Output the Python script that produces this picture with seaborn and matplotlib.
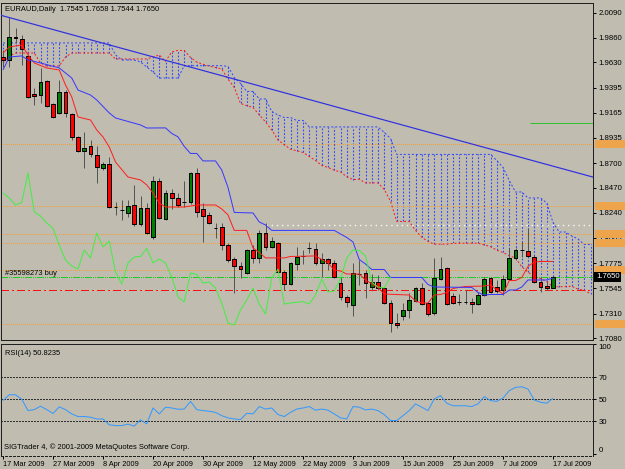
import numpy as np
import pandas as pd
import seaborn as sns
import matplotlib.pyplot as plt
from matplotlib.patches import Rectangle
from matplotlib.transforms import blended_transform_factory

# ---- EURAUD daily candles, 17 Mar - 17 Jul 2009 ----
opens = [
    1.9680, 1.9653, 1.9865, 1.9847, 1.9690, 1.9338, 1.9329, 1.9459, 1.9246, 1.9163,
    1.9357, 1.9154, 1.8941, 1.8812, 1.8858, 1.8775, 1.8655, 1.8692, 1.8294, 1.8267,
    1.8239, 1.8313, 1.8137, 1.8285, 1.8017, 1.8535, 1.8183, 1.8424, 1.8377, 1.8341,
    1.8341, 1.8609, 1.8276, 1.8220, 1.8100, 1.8110, 1.7943, 1.7814, 1.7749, 1.7685,
    1.7897, 1.7823, 1.8054, 1.7925, 1.7962, 1.7694, 1.7583, 1.7768, 1.7841, 1.7915,
    1.7906, 1.7777, 1.7814, 1.7777, 1.7592, 1.7463, 1.7389, 1.7675, 1.7685, 1.7555,
    1.7601, 1.7546, 1.7407, 1.7222, 1.7287, 1.7343, 1.7426, 1.7546, 1.7407, 1.7315,
    1.7629, 1.7731, 1.7472, 1.7417, 1.7417, 1.7417, 1.7398, 1.7481, 1.7638, 1.7555,
    1.7527, 1.7629, 1.7823, 1.7897, 1.7888, 1.7832, 1.7601, 1.7564, 1.7545]
highs = [
    1.9745, 2.0050, 1.9948, 1.9884, 1.9708, 1.9394, 1.9579, 1.9468, 1.9255, 1.9468,
    1.9375, 1.9163, 1.8950, 1.8987, 1.8913, 1.8858, 1.8710, 1.8756, 1.8341, 1.8359,
    1.8359, 1.8498, 1.8396, 1.8331, 1.8581, 1.8562, 1.8451, 1.8461, 1.8424, 1.8535,
    1.8618, 1.8655, 1.8331, 1.8248, 1.8147, 1.8147, 1.7962, 1.7832, 1.7786, 1.7906,
    1.7943, 1.8082, 1.8147, 1.8017, 1.7971, 1.7712, 1.7786, 1.7925, 1.7897, 1.7971,
    1.7962, 1.7869, 1.7823, 1.7805, 1.7648, 1.7481, 1.7777, 1.7805, 1.7712, 1.7675,
    1.7666, 1.7555, 1.7435, 1.7315, 1.7407, 1.7500, 1.7555, 1.7592, 1.7417, 1.7823,
    1.7832, 1.7740, 1.7500, 1.7490, 1.7527, 1.7453, 1.7509, 1.7648, 1.7648, 1.7620,
    1.7666, 1.7915, 1.7915, 1.7971, 1.8100, 1.7851, 1.7648, 1.7601, 1.7658]
lows = [
    1.9588, 1.9588, 1.9810, 1.9606, 1.9302, 1.9237, 1.9255, 1.9218, 1.9117, 1.9154,
    1.9126, 1.8913, 1.8803, 1.8655, 1.8756, 1.8516, 1.8636, 1.8285, 1.8220, 1.8174,
    1.8202, 1.8119, 1.8119, 1.8045, 1.7999, 1.8183, 1.8174, 1.8276, 1.8294, 1.8294,
    1.8322, 1.8202, 1.7971, 1.8137, 1.8008, 1.7897, 1.7786, 1.7500, 1.7638, 1.7675,
    1.7777, 1.7777, 1.7897, 1.7915, 1.7685, 1.7527, 1.7574, 1.7712, 1.7768, 1.7869,
    1.7758, 1.7648, 1.7712, 1.7638, 1.7435, 1.7370, 1.7287, 1.7574, 1.7453, 1.7527,
    1.7527, 1.7398, 1.7139, 1.7176, 1.7250, 1.7269, 1.7417, 1.7389, 1.7287, 1.7296,
    1.7620, 1.7389, 1.7398, 1.7389, 1.7398, 1.7315, 1.7389, 1.7472, 1.7500, 1.7500,
    1.7481, 1.7620, 1.7805, 1.7832, 1.7832, 1.7592, 1.7509, 1.7527, 1.7544]
closes = [
    1.9653, 1.9865, 1.9856, 1.9754, 1.9311, 1.9320, 1.9449, 1.9228, 1.9126, 1.9357,
    1.9163, 1.8941, 1.8812, 1.8839, 1.8784, 1.8664, 1.8692, 1.8294, 1.8298, 1.8263,
    1.8304, 1.8137, 1.8285, 1.8054, 1.8535, 1.8193, 1.8424, 1.8377, 1.8313, 1.8337,
    1.8609, 1.8248, 1.8211, 1.8147, 1.8097, 1.7943, 1.7805, 1.7749, 1.7721, 1.7897,
    1.7823, 1.8054, 1.7925, 1.7980, 1.7694, 1.7583, 1.7777, 1.7832, 1.7838, 1.7912,
    1.7777, 1.7814, 1.7777, 1.7648, 1.7463, 1.7417, 1.7685, 1.7672, 1.7592, 1.7601,
    1.7546, 1.7407, 1.7222, 1.7204, 1.7343, 1.7435, 1.7546, 1.7398, 1.7306, 1.7638,
    1.7721, 1.7398, 1.7407, 1.7414, 1.7420, 1.7398, 1.7481, 1.7629, 1.7509, 1.7518,
    1.7629, 1.7823, 1.7897, 1.7893, 1.7842, 1.7601, 1.7555, 1.7546, 1.7650]

# Ichimoku lines, vertices (bar index, price)
tenkan_bars = [0, 1, 3, 4, 5, 7, 9, 10, 11, 12, 14, 15, 16, 17, 18, 20, 22, 23, 24, 25,
               26, 29, 31, 34, 35, 36, 37, 39, 40, 41, 42, 45, 46, 50, 52, 53, 54, 55, 57, 58,
               60, 61, 65, 66, 67, 68, 69, 70, 71, 72, 73, 74, 77, 78, 79, 80, 81, 82, 83, 84,
               85, 86, 88]
tenkan_vals = [1.9717, 1.9773, 1.9791, 1.9699, 1.9625, 1.9579, 1.9560, 1.9422, 1.9311, 1.9126,
               1.9098, 1.9006, 1.8941, 1.8849, 1.8710, 1.8571, 1.8544, 1.8498, 1.8424, 1.8331,
               1.8294, 1.8294, 1.8313, 1.8313, 1.8276, 1.8221, 1.8078, 1.8078, 1.7916, 1.7874,
               1.7824, 1.7824, 1.7837, 1.7842, 1.7777, 1.7712, 1.7703, 1.7675, 1.7675, 1.7620,
               1.7550, 1.7490, 1.7481, 1.7426, 1.7407, 1.7407, 1.7481, 1.7486, 1.7504, 1.7541,
               1.7551, 1.7560, 1.7564, 1.7574, 1.7528, 1.7491, 1.7615, 1.7615, 1.7643, 1.7745,
               1.7786, 1.7791, 1.7791]
kijun_bars = [0, 1, 3, 4, 6, 9, 11, 12, 14, 15, 17, 18, 22, 23, 26, 27, 28, 29, 30, 31,
              32, 34, 35, 36, 37, 40, 41, 42, 43, 53, 54, 55, 56, 57, 58, 59, 61, 62, 67, 68,
              69, 75, 76, 77, 78, 80, 81, 82, 83, 84, 87, 88]
kijun_vals = [1.9560, 1.9680, 1.9690, 1.9653, 1.9625, 1.9579, 1.9486, 1.9375, 1.9329, 1.9283,
              1.9163, 1.9117, 1.9052, 1.9024, 1.9025, 1.8974, 1.8942, 1.8854, 1.8789, 1.8789,
              1.8720, 1.8720, 1.8636, 1.8475, 1.8244, 1.8239, 1.8156, 1.8128, 1.8078, 1.8078,
              1.8045, 1.8013, 1.7971, 1.7809, 1.7768, 1.7717, 1.7717, 1.7643, 1.7643, 1.7578,
              1.7555, 1.7551, 1.7504, 1.7481, 1.7486, 1.7486, 1.7527, 1.7527, 1.7555, 1.7620,
              1.7620, 1.7638]
chikou_shift = 26

# cloud spans, one value per bar 0..94 (drawn 26 bars ahead)
span_a = [
    1.9625, 1.9690, 1.9717, 1.9717, 1.9717, 1.9717, 1.9625, 1.9597, 1.9597, 1.9597,
    1.9680, 1.9717, 1.9717, 1.9717, 1.9717, 1.9717, 1.9717, 1.9717, 1.9662, 1.9662,
    1.9662, 1.9662, 1.9662, 1.9662, 1.9680, 1.9699, 1.9639, 1.9727, 1.9741, 1.9741,
    1.9676, 1.9633, 1.9613, 1.9595, 1.9583, 1.9570, 1.9476, 1.9399, 1.9251, 1.9230,
    1.9214, 1.9145, 1.9081, 1.9006, 1.8914, 1.8870, 1.8828, 1.8814, 1.8798, 1.8761,
    1.8724, 1.8678, 1.8660, 1.8634, 1.8618, 1.8574, 1.8547, 1.8551, 1.8517, 1.8517,
    1.8517, 1.8456, 1.8348, 1.8161, 1.8161, 1.8161, 1.8078, 1.8015, 1.7976, 1.7951,
    1.7951, 1.7951, 1.7958, 1.7960, 1.7960, 1.7960, 1.7960, 1.7944, 1.7928, 1.7895,
    1.7874, 1.7844, 1.7823, 1.7742, 1.7694, 1.7649, 1.7634, 1.7604, 1.7557, 1.7557,
    1.7559, 1.7562, 1.7535, 1.7525, 1.7493]
span_b = [
    1.9810, 1.9810, 1.9810, 1.9810, 1.9810, 1.9810, 1.9810, 1.9810, 1.9810, 1.9810,
    1.9810, 1.9810, 1.9810, 1.9810, 1.9810, 1.9810, 1.9810, 1.9810, 1.9699, 1.9653,
    1.9653, 1.9653, 1.9634, 1.9588, 1.9542, 1.9486, 1.9486, 1.9486, 1.9486, 1.9600,
    1.9600, 1.9600, 1.9600, 1.9600, 1.9600, 1.9600, 1.9593, 1.9491, 1.9436, 1.9362,
    1.9362, 1.9292, 1.9292, 1.9177, 1.9144, 1.9121, 1.9121, 1.9094, 1.9094, 1.9034,
    1.9034, 1.9034, 1.9034, 1.9034, 1.9034, 1.9034, 1.9034, 1.9034, 1.9034, 1.9034,
    1.9034, 1.8983, 1.8928, 1.8780, 1.8780, 1.8780, 1.8780, 1.8780, 1.8780, 1.8780,
    1.8780, 1.8780, 1.8780, 1.8780, 1.8780, 1.8780, 1.8780, 1.8780, 1.8780, 1.8724,
    1.8660, 1.8539, 1.8433, 1.8433, 1.8378, 1.8378, 1.8378, 1.8331, 1.8151, 1.8063,
    1.8063, 1.8026, 1.7999, 1.7948, 1.7948]

rsi = [
    48.7, 54.0, 54.0, 50.0, 39.6, 40.5, 43.6, 40.5, 37.0, 43.0,
    40.5, 36.6, 34.2, 34.2, 33.6, 32.0, 32.0, 26.7, 26.0, 26.0,
    27.3, 25.5, 31.2, 27.6, 42.0, 36.6, 42.7, 42.0, 40.8, 41.1,
    48.0, 40.5, 39.6, 39.0, 38.0, 35.0, 33.0, 32.0, 31.5, 37.2,
    36.6, 43.3, 41.0, 42.0, 36.0, 34.2, 38.0, 41.0, 42.0, 43.3,
    40.0, 41.0, 40.0, 36.6, 33.0, 32.0, 43.3, 42.7, 40.2, 41.0,
    39.6, 36.0, 30.6, 30.6, 35.0, 39.6, 45.7, 42.7, 39.6, 50.2,
    53.2, 46.3, 44.0, 44.0, 44.0, 43.3, 45.7, 52.3, 48.7, 48.0,
    51.0, 57.7, 60.7, 61.3, 59.2, 49.3, 47.2, 46.3, 50.8]

tick_bars = [0, 8, 16, 24, 32, 40, 48, 56, 64, 72, 80, 88]
tick_labels = ['17 Mar 2009', '27 Mar 2009', '8 Apr 2009', '20 Apr 2009', '30 Apr 2009',
               '12 May 2009', '22 May 2009', '3 Jun 2009', '15 Jun 2009', '25 Jun 2009',
               '7 Jul 2009', '17 Jul 2009']
price_ticks = [2.0090, 1.9860, 1.9630, 1.9395, 1.9165, 1.8935, 1.8700, 1.8470, 1.8240,
               1.8005, 1.7775, 1.7545, 1.7310, 1.7080]
rsi_ticks = [0, 30, 50, 70, 100]
rsi_levels = [70, 50, 30]

orange_levels = [1.8877, 1.8304, 1.8045, 1.7962, 1.7712, 1.7213]
white_level, white_from = 1.8128, 42
green_level, green_from = 1.9070, 84.3
buy_level = 1.7648
stop_level = 1.7527
last_price = 1.7650
trend_bars = [-0.5, 94.5]
trend_vals = [2.0068, 1.8569]

# ---- style ----
W, H = 625, 469
PX = 0.72  # one pixel in points at 100 dpi
bg = '#c0bcb0'
DOT = (0, (2, 2))
CLOUD = '#3048ff'

sns.set_theme(style='white', rc={'axes.facecolor': bg, 'figure.facecolor': bg,
                                 'lines.solid_capstyle': 'butt', 'lines.dash_capstyle': 'butt'})
plt.rcParams['font.family'] = ['Liberation Sans', 'DejaVu Sans']


def px_box(l, t, r, b):
    return [l / W, 1 - b / H, (r - l) / W, (b - t) / H]


fig = plt.figure(figsize=(W / 100, H / 100), dpi=100)
ax = fig.add_axes(px_box(1, 3, 593, 339.5))
ax2 = fig.add_axes(px_box(1, 343.5, 593, 455.5))
for a in (ax, ax2):
    a.set_xlim(-0.32, 94.4)
    for s in a.spines.values():
        s.set_color('#202020')
        s.set_linewidth(PX)
ax.set_ylim(1.7070, 2.0179)
ax2.set_ylim(-1.2, 100.6)

# ---- cloud: one dotted vertical per bar between the two spans ----
cloud = pd.DataFrame({'bar': np.arange(len(span_a)), 'a': span_a, 'b': span_b})
for _, row in cloud.iterrows():
    ax.plot([row['bar'], row['bar']], [min(row['a'], row['b']), max(row['a'], row['b'])],
            color=CLOUD, lw=PX * 1.1, ls=(0, (1.6, 1.6)), zorder=1, snap=True)
sns.lineplot(data=cloud, x='bar', y='a', ax=ax, color='#ff1a1a', lw=PX, linestyle=DOT,
             zorder=1.5)
sns.lineplot(data=cloud, x='bar', y='b', ax=ax, color=CLOUD, lw=PX, linestyle=DOT,
             zorder=1.5)

# ---- horizontal levels ----
for lvl in orange_levels:
    ax.axhline(lvl, color='#f0a038', lw=PX, ls=(0, (1, 2)), zorder=1.2, antialiased=False)
ax.hlines(white_level, white_from, 94.4, color='white', lw=PX * 1.3,
          linestyles=[(0, (1, 3))], zorder=1.3)
ax.hlines(green_level, green_from, 94.4, color='#30c030', lw=PX, zorder=1.3)
ax.axhline(buy_level, color='#20cc20', lw=PX, ls=(0, (6, 2, 1, 2, 1, 2)), zorder=1.3,
           antialiased=False)
ax.axhline(stop_level, color='#ff1010', lw=PX, ls=(0, (8, 3, 2, 3)), zorder=1.3,
           antialiased=False)

# ---- candles ----
df = pd.DataFrame({'bar': np.arange(len(opens)), 'open': opens, 'high': highs,
                   'low': lows, 'close': closes})
up = df['close'] >= df['open']
ax.vlines(df['bar'], df['low'], df['high'], colors='#555555', lw=PX, zorder=3)
ax.bar(df['bar'], (df['close'] - df['open']).abs(), bottom=df[['open', 'close']].min(axis=1),
       width=0.6, color=np.where(up, '#008000', '#ff0000'), edgecolor='black', linewidth=PX,
       zorder=4)

# ---- ichimoku lines ----
sns.lineplot(x=tenkan_bars, y=tenkan_vals, ax=ax, color='#ff2020', lw=PX, zorder=5)
sns.lineplot(x=kijun_bars, y=kijun_vals, ax=ax, color='#3838ff', lw=PX, zorder=5)
chikou = df['close'].iloc[chikou_shift:].to_numpy()
sns.lineplot(x=np.arange(len(chikou)), y=chikou, ax=ax, color='#44ee44', lw=PX, zorder=5)
sns.lineplot(x=trend_bars, y=trend_vals, ax=ax, color='#3030e0', lw=PX * 1.2, zorder=6)

# ---- price axis ----
ax.yaxis.tick_right()
ax.set_yticks(price_ticks)
ax.set_yticklabels([f'{v:.4f}' for v in price_ticks])
ax.tick_params(axis='y', right=True, left=False, length=2.5, width=PX, pad=1.5,
               labelsize=5.6, colors='black')
ax.set_xticks([])
ax.set_xlabel('')
ax.set_ylabel('')

# orange alert tags on the price scale (drawn under the scale labels)
tr = blended_transform_factory(ax.transAxes, ax.transData)
tag_h = 0.0072
for lvl in orange_levels:
    ax.add_patch(Rectangle((1.004, lvl - tag_h / 2), 0.05, tag_h, transform=tr,
                           fc='#eea44a', ec='none', zorder=2, clip_on=False))
ax.text(1.005, last_price, f'{last_price:.4f}', transform=tr, fontsize=5.6, color='white',
        va='center', ha='left', zorder=6, clip_on=False,
        bbox=dict(boxstyle='square,pad=0.2', fc='black', ec='none'))

ax.text(0.007, 0.982, 'EURAUD,Daily  1.7545 1.7658 1.7544 1.7650', transform=ax.transAxes,
        fontsize=5.4, va='center', ha='left', color='black')
ax.text(0.007, buy_level, '#35598273 buy', transform=tr, fontsize=5.4, va='bottom',
        ha='left', color='black')

# ---- RSI panel ----
for lvl in rsi_levels:
    ax2.axhline(lvl, color='#303030', lw=PX, ls=DOT, zorder=1, antialiased=False)
sns.lineplot(x=np.arange(len(rsi)), y=rsi, ax=ax2, color='#3399ff', lw=PX, zorder=3)
ax2.yaxis.tick_right()
ax2.set_yticks(rsi_ticks)
ax2.set_yticklabels([str(v) for v in rsi_ticks])
ylabels = ax2.get_yticklabels()
ylabels[0].set_verticalalignment('bottom')
ylabels[-1].set_verticalalignment('top')
ax2.tick_params(axis='y', right=True, left=False, length=2.5, width=PX, pad=1.5,
                labelsize=5.6, colors='black')
ax2.set_xticks(tick_bars)
ax2.set_xticklabels(tick_labels, ha='left')
ax2.tick_params(axis='x', bottom=True, length=2.5, width=PX, pad=1.5, labelsize=5.3,
                colors='black', direction='out')
ax2.spines['bottom'].set_linestyle(DOT)
ax2.set_xlabel('')
ax2.set_ylabel('')
ax2.text(0.007, 0.915, 'RSI(14) 50.8235', transform=ax2.transAxes, fontsize=5.4,
         va='center', ha='left', color='black')
ax2.text(0.005, 0.07, 'SIGTrader 4, \u00a9 2001-2009 MetaQuotes Software Corp.',
         transform=ax2.transAxes, fontsize=5.4, va='center', ha='left', color='black')

fig.savefig('out.png', dpi=100, facecolor=bg)
